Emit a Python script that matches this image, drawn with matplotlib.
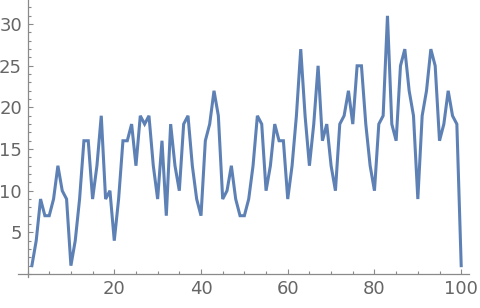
import numpy as np
import matplotlib
matplotlib.use("Agg")
import matplotlib.pyplot as plt
from matplotlib.ticker import MultipleLocator

# values
x_vals = list(range(1, 101))
y_vals = [1, 4, 9, 7, 7, 9, 13, 10, 9, 1,
          4, 9, 16, 16, 9, 13, 19, 9, 10, 4,
          9, 16, 16, 18, 13, 19, 18, 19, 13, 9,
          16, 7, 18, 13, 10, 18, 19, 13, 9, 7,
          16, 18, 22, 19, 9, 10, 13, 9, 7, 7,
          9, 13, 19, 18, 10, 13, 18, 16, 16, 9,
          13, 19, 27, 19, 13, 18, 25, 16, 18, 13,
          10, 18, 19, 22, 18, 25, 25, 18, 13, 10,
          18, 19, 31, 18, 16, 25, 27, 22, 19, 9,
          19, 22, 27, 25, 16, 18, 22, 19, 18, 1]
x_ticks = [20, 40, 60, 80, 100]
y_ticks = [5, 10, 15, 20, 25, 30]

line_color = "#5E81B5"
axis_color = "#8a8a8a"
label_color = "#666666"

fig = plt.figure(figsize=(4.8, 3.08), dpi=100)
ax = fig.add_axes([18 / 480, 1 - 277 / 308, (469 - 18) / 480, 277 / 308])

ax.plot(x_vals, y_vals, color=line_color, lw=2.2, solid_joinstyle="miter")

ax.set_xlim(-2.2, 101.8)
ax.set_ylim(-0.36, 32.9)

ax.spines["left"].set_position(("data", 0))
ax.spines["bottom"].set_position(("data", 0))
ax.spines["top"].set_visible(False)
ax.spines["right"].set_visible(False)
for s in ("left", "bottom"):
    ax.spines[s].set_color(axis_color)
    ax.spines[s].set_linewidth(0.9)

ax.set_xticks(x_ticks)
ax.set_yticks(y_ticks)
ax.xaxis.set_minor_locator(MultipleLocator(5))
ax.yaxis.set_minor_locator(MultipleLocator(1))
ax.tick_params(which="both", direction="in", color=axis_color, width=0.8)
ax.tick_params(which="major", length=3.4, labelsize=13, labelcolor=label_color)
ax.tick_params(which="minor", length=2.0)
ax.tick_params(axis="x", which="major", pad=4)
ax.tick_params(axis="y", which="major", pad=4)

ax.patch.set_visible(False)
fig.savefig("out.png", dpi=100)
